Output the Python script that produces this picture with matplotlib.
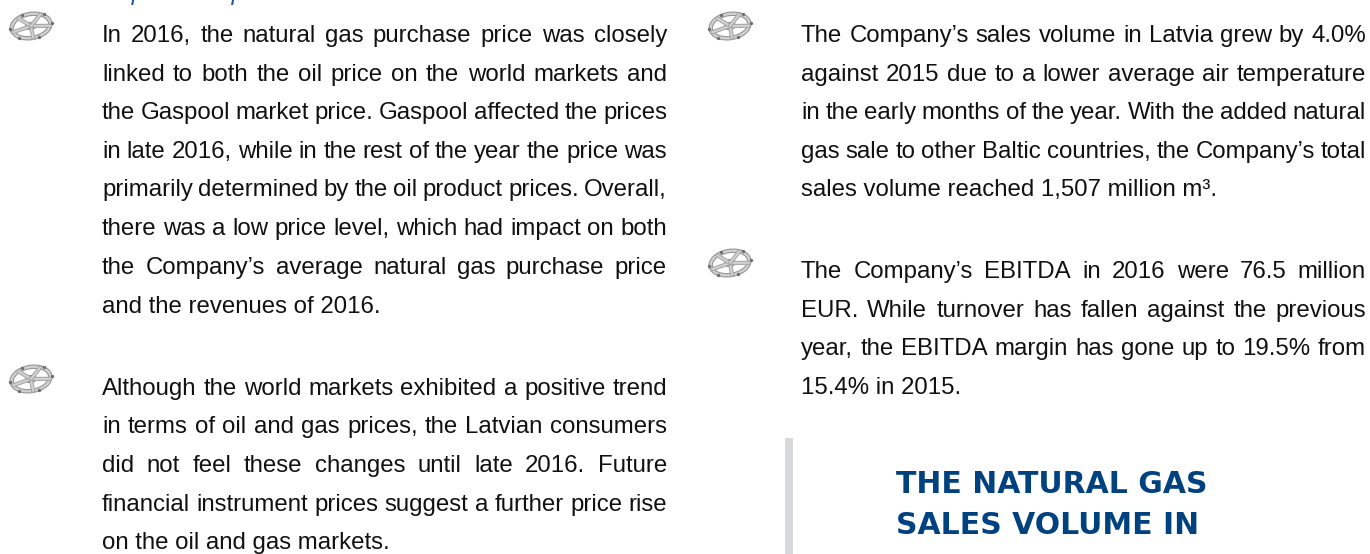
import matplotlib
matplotlib.use("Agg")
import matplotlib.pyplot as plt
from matplotlib.patches import Ellipse, Rectangle
import numpy as np

W, H = 1370, 554
FONT = "Liberation Sans"
BODY_PT = 17.3

left_blocks = [
    ["In 2016, the natural gas purchase price was closely",
     "linked to both the oil price on the world markets and",
     "the Gaspool market price. Gaspool affected the prices",
     "in late 2016, while in the rest of the year the price was",
     "primarily determined by the oil product prices. Overall,",
     "there was a low price level, which had impact on both",
     "the Company\u2019s average natural gas purchase price",
     "and the revenues of 2016."],
    ["Although the world markets exhibited a positive trend",
     "in terms of oil and gas prices, the Latvian consumers",
     "did not feel these changes until late 2016. Future",
     "financial instrument prices suggest a further price rise",
     "on the oil and gas markets."],
]
right_blocks = [
    ["The Company\u2019s sales volume in Latvia grew by 4.0%",
     "against 2015 due to a lower average air temperature",
     "in the early months of the year. With the added natural",
     "gas sale to other Baltic countries, the Company\u2019s total",
     "sales volume reached 1,507 million m\u00b3."],
    ["The Company\u2019s EBITDA in 2016 were 76.5 million",
     "EUR. While turnover has fallen against the previous",
     "year, the EBITDA margin has gone up to 19.5% from",
     "15.4% in 2015."],
]
left_y = [[42, 81, 119, 158, 196, 235, 274, 313], [395, 433, 472, 511, 549]]
right_y = [[42, 81, 119, 158, 196], [278, 317, 355, 394]]
callout = ["THE NATURAL GAS", "SALES VOLUME IN", "2016 HAS GROWN BY"]
callout_y = [493, 534, 575.5]
heading = "Description of operation in 2016"
wheel_centres = [(31, 26), (31, 379), (730, 26), (730, 263)]

fig = plt.figure(figsize=(W / 100, H / 100), dpi=100)
ax = fig.add_axes([0, 0, 1, 1])
ax.set_xlim(0, W)
ax.set_ylim(H, 0)
ax.axis("off")
renderer = fig.canvas.get_renderer()


def width(s):
    t = ax.text(0, 0, s, fontsize=BODY_PT, family=FONT)
    w = t.get_window_extent(renderer).width
    t.remove()
    return w


def justified(line, x0, x1, y, last):
    if last:
        ax.text(x0, y, line, fontsize=BODY_PT, family=FONT, color="#111111", va="baseline")
        return
    words = line.split(" ")
    ws = [width(w) for w in words]
    gap = (x1 - x0 - sum(ws)) / (len(words) - 1)
    x = x0
    for w, wd in zip(words, ws):
        ax.text(x, y, w, fontsize=BODY_PT, family=FONT, color="#111111", va="baseline")
        x += wd + gap


for blocks, ys, x0, x1 in [(left_blocks, left_y, 102, 667), (right_blocks, right_y, 801, 1366)]:
    for block, yy in zip(blocks, ys):
        for i, (line, y) in enumerate(zip(block, yy)):
            justified(line, x0, x1, y, i == len(block) - 1)


def wheel(cx, cy):
    angle = -10
    a = np.deg2rad(angle)
    wd, ht = 39, 24

    def pt(th, k=1.0):
        t = np.deg2rad(th)
        ex, ey = k * wd / 2 * np.cos(t), k * ht / 2 * np.sin(t)
        return cx + ex * np.cos(a) - ey * np.sin(a), cy + ex * np.sin(a) + ey * np.cos(a)

    for th in [15, 90, 165, 235, 305]:
        px, py = pt(th)
        ax.plot([cx, px], [cy, py], color="#a8a8a8", lw=3.0, solid_capstyle="round")
        ax.plot([cx, px], [cy, py], color="#d2d2d2", lw=1.4, solid_capstyle="round")
    ax.add_patch(Ellipse((cx, cy), wd, ht, angle=angle, fill=False, ec="#969696", lw=3.2))
    ax.add_patch(Ellipse((cx, cy), wd, ht, angle=angle, fill=False, ec="#d2d2d2", lw=1.6))
    for th in [5, 75, 130, 185, 250, 315]:
        px, py = pt(th, 1.08)
        ax.plot(px, py, "o", ms=2.4, color="#6e6e6e", mew=0)
    ax.add_patch(Ellipse((cx, cy), 12, 8, angle=angle, fc="#808080", ec="none"))
    ax.add_patch(Ellipse((cx, cy), 5, 3.5, angle=angle, fc="#3c3c3c", ec="none"))


for cx, cy in wheel_centres:
    wheel(cx, cy)

ax.add_patch(Rectangle((785, 438), 8, H - 438, fc="#d6d7d9", ec="none"))

for line, y in zip(callout, callout_y):
    ax.text(896, y, line, fontsize=21.5, family="DejaVu Sans", weight="bold", color="#004280",
            va="baseline", clip_on=True)

ax.text(63, 0, heading, fontsize=17.5, family=FONT, style="italic", color="#1f5c99",
        va="baseline", clip_on=True)

fig.savefig("out.png", dpi=100)
